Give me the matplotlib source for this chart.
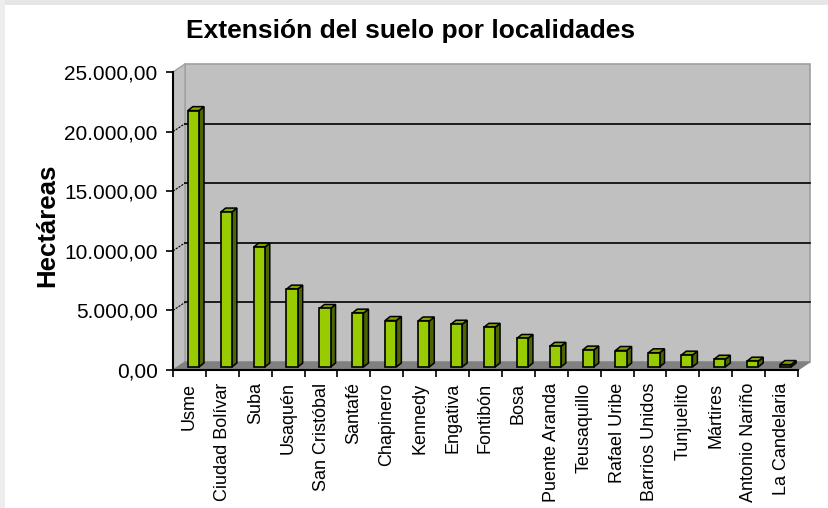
import matplotlib
matplotlib.use('Agg')
import matplotlib.pyplot as plt
from matplotlib.patches import Polygon, Rectangle
from matplotlib import font_manager

# Datos: hectáreas por localidad
localidades = ['Usme', 'Ciudad Bolívar', 'Suba', 'Usaquén', 'San Cristóbal',
               'Santafé', 'Chapinero', 'Kennedy', 'Engativa', 'Fontibón',
               'Bosa', 'Puente Aranda', 'Teusaquillo', 'Rafael Uribe',
               'Barrios Unidos', 'Tunjuelito', 'Mártires', 'Antonio Nariño',
               'La Candelaria']
hectareas = [21506.7, 12998.5, 10056.0, 6531.3, 4909.9,
             4517.1, 3899.0, 3859.0, 3588.1, 3327.6,
             2393.3, 1731.1, 1419.3, 1383.4,
             1189.8, 991.1, 651.4, 488.0,
             206.0]
y_ticks = [0, 5000, 10000, 15000, 20000, 25000]

# fuente estrecha si existe
nombres = {f.name for f in font_manager.fontManager.ttflist}
fuente = 'Liberation Sans Narrow' if 'Liberation Sans Narrow' in nombres else 'Liberation Sans'

W, H = 829, 508
fig = plt.figure(figsize=(W / 100, H / 100), dpi=100)
fig.patch.set_facecolor('white')

# sombra gris del marco (arriba e izquierda)
fig.patches.append(Rectangle((0, 1 - 5 / H), 1, 5 / H, transform=fig.transFigure,
                             facecolor='#e6e6e6', edgecolor='none'))
fig.patches.append(Rectangle((0, 0), 5 / W, 1, transform=fig.transFigure,
                             facecolor='#ededed', edgecolor='none'))

# plano frontal del gráfico en pixeles
x0, x1, y_top, y_bot = 173, 798, 72, 370
ax = fig.add_axes([x0 / W, (H - y_bot) / H, (x1 - x0) / W, (y_bot - y_top) / H])
n = len(localidades)
ymax = 25000
ax.set_xlim(0, n)
ax.set_ylim(0, ymax)
ax.patch.set_visible(False)

px_x = n / (x1 - x0)          # unidades de datos por pixel en x
px_y = ymax / (y_bot - y_top)  # unidades de datos por pixel en y
dx, dy = 12 * px_x, 8 * px_y   # profundidad de las paredes

# paredes y piso
piso = Polygon([(0, 0), (n, 0), (n + dx, dy), (dx, dy)], closed=True,
               facecolor='#808080', edgecolor='#808080', lw=0.8, clip_on=False, zorder=0)
pared_izq = Polygon([(0, 0), (0, ymax), (dx, ymax + dy), (dx, dy)], closed=True,
                    facecolor='#c0c0c0', edgecolor='#a0a0a0', lw=1, clip_on=False, zorder=0)
fondo = Rectangle((dx, dy), n, ymax, facecolor='#c0c0c0', edgecolor='#a0a0a0',
                  lw=1.2, clip_on=False, zorder=0)
for p in (fondo, pared_izq, piso):
    ax.add_patch(p)

# líneas de división en el fondo y en la pared izquierda
for v in y_ticks[1:-1]:
    ax.plot([dx, n + dx], [v + dy, v + dy], color='black', lw=1.2, clip_on=False, zorder=1)
    ax.plot([0, dx], [v, v + dy], color='black', lw=0.8, ls=(0, (2, 1)), clip_on=False, zorder=1)

# barras 3D
ancho = 0.34
desp = 0.45
base = 3 * px_y
sdx, sdy = 5 * px_x, 4 * px_y
xs = [i + desp for i in range(n)]
ax.bar(xs, hectareas, width=ancho, bottom=base, align='edge', color='#99cc00',
       edgecolor='black', linewidth=1.2, zorder=3, clip_on=False)
for x, v in zip(xs, hectareas):
    top = v + base
    lado = Polygon([(x + ancho, base), (x + ancho + sdx, base + sdy),
                    (x + ancho + sdx, top + sdy), (x + ancho, top)], closed=True,
                   facecolor='#4d6600', edgecolor='black', lw=1.1, zorder=2, clip_on=False)
    tapa = Polygon([(x, top), (x + ancho, top), (x + ancho + sdx, top + sdy),
                    (x + sdx, top + sdy)], closed=True,
                   facecolor='#7fa300', edgecolor='black', lw=1.1, zorder=2, clip_on=False)
    ax.add_patch(lado)
    ax.add_patch(tapa)

# ejes
for lado_eje in ('top', 'right'):
    ax.spines[lado_eje].set_visible(False)
for lado_eje in ('left', 'bottom'):
    ax.spines[lado_eje].set_color('black')
    ax.spines[lado_eje].set_linewidth(1.5)
    ax.spines[lado_eje].set_zorder(4)

ax.set_yticks(y_ticks)
ax.set_yticklabels([f"{v:,.2f}".replace(',', 'X').replace('.', ',').replace('X', '.')
                    for v in y_ticks], fontsize=15, family=fuente)
ax.tick_params(axis='y', direction='out', length=5, width=1.2, pad=6, color='black')

ax.set_xticks(range(n + 1))
ax.set_xticklabels([])
ax.set_xticks([i + 0.5 for i in range(n)], minor=True)
ax.set_xticklabels(localidades, minor=True, rotation=90, fontsize=13, family=fuente)
ax.tick_params(axis='x', which='major', direction='out', length=5, width=1.2, color='black')
ax.tick_params(axis='x', which='minor', length=0, pad=9)

fig.text(47 / W, (H - 225) / H, 'Hectáreas', rotation=90, ha='center', va='center',
         fontsize=18.5, fontweight='bold', family=fuente)
fig.text(411 / W, (H - 31) / H, 'Extensión del suelo por localidades', ha='center',
         va='center', fontsize=19, fontweight='bold', family=fuente)

fig.savefig('out.png', dpi=100)
